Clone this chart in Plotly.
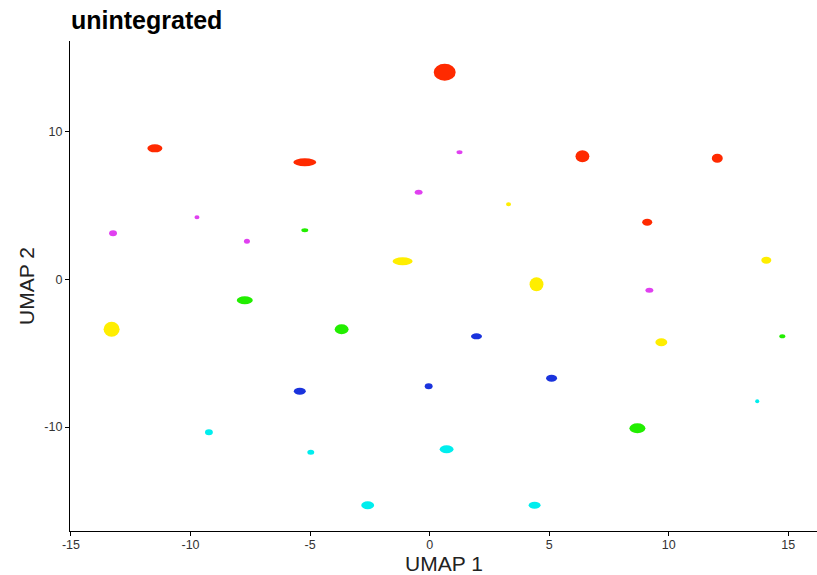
import plotly.graph_objects as go

# Cluster centres (UMAP units)
cluster_x = [0.63, -11.49, -5.22, 6.39, 12.03, 9.10,
             1.25, -0.46, -13.24, -9.73, -7.64, 9.19,
             3.30, -1.13, 4.47, -13.30, 14.08, 9.69,
             -5.22, -7.73, -3.68, 8.69, 14.75,
             1.96, -0.04, 5.10, -5.43,
             -9.23, -4.97, 0.71, -2.59, 4.39, 13.70]
cluster_y = [14.00, 8.86, 7.92, 8.32, 8.19, 3.86,
             8.59, 5.89, 3.11, 4.20, 2.57, -0.74,
             5.07, 1.22, -0.34, -3.38, 1.29, -4.26,
             3.32, -1.42, -3.38, -10.08, -3.86,
             -3.86, -7.24, -6.70, -7.58,
             -10.35, -11.70, -11.50, -15.29, -15.29, -8.25]
# Cluster extents (UMAP units)
cluster_wx = [0.92, 0.63, 0.96, 0.58, 0.46, 0.42,
              0.25, 0.33, 0.33, 0.21, 0.25, 0.33,
              0.21, 0.84, 0.58, 0.67, 0.42, 0.50,
              0.29, 0.67, 0.58, 0.67, 0.25,
              0.46, 0.33, 0.46, 0.50,
              0.33, 0.29, 0.58, 0.54, 0.50, 0.17]
cluster_wy = [1.15, 0.54, 0.54, 0.81, 0.61, 0.47,
              0.27, 0.34, 0.41, 0.27, 0.34, 0.34,
              0.27, 0.54, 0.95, 1.01, 0.47, 0.54,
              0.27, 0.54, 0.68, 0.68, 0.27,
              0.41, 0.41, 0.47, 0.47,
              0.41, 0.34, 0.54, 0.54, 0.47, 0.27]
cluster_group = (["red"] * 6 + ["magenta"] * 6 + ["yellow"] * 6 +
                 ["green"] * 5 + ["blue"] * 4 + ["cyan"] * 6)

x_ticks = [-15, -10, -5, 0, 5, 10, 15]
x_tick_labels = ["-15", "-10", "-5", "0", "5", "10", "15"]
y_ticks = [-10, 0, 10]
y_tick_labels = ["-10", "0", "10"]

colors = {"red": "#ff2a00", "magenta": "#e040f0", "yellow": "#ffee00",
          "green": "#22ee00", "blue": "#1a33dd", "cyan": "#00eeee"}

W, H = 817, 575
ML, MR, MT, MB = 70, 0, 41, 44

fig = go.Figure()
fig.add_trace(go.Scatter(
    x=cluster_x, y=cluster_y, mode="markers",
    marker=dict(size=2, color=[colors[g] for g in cluster_group]),
    showlegend=False, hoverinfo="x+y"))

for cx, cy, wx, wy, g in zip(cluster_x, cluster_y, cluster_wx, cluster_wy, cluster_group):
    fig.add_shape(type="circle", xref="x", yref="y",
                  x0=cx - wx / 2, x1=cx + wx / 2, y0=cy - wy / 2, y1=cy + wy / 2,
                  fillcolor=colors[g], line=dict(width=0), layer="above")

axis_common = dict(showgrid=False, zeroline=False, showline=True, linecolor="black",
                   linewidth=1.2, ticks="outside", ticklen=4, tickwidth=1, automargin=False,
                   tickfont=dict(family="Liberation Sans", size=12.5, color="#333333"),
                   tickcolor="black")

title_font = dict(family="Liberation Sans", size=21, color="#222222")

fig.update_layout(
    width=W, height=H,
    margin=dict(l=ML, r=MR, t=MT, b=MB, autoexpand=False),
    plot_bgcolor="white", paper_bgcolor="white",
    title=dict(text="<b>unintegrated</b>", x=71 / W, xanchor="left", xref="container",
               y=1 - 20 / H, yanchor="middle", yref="container",
               font=dict(family="Liberation Sans", size=25, color="black")),
    xaxis=dict(range=[-15.04, 16.2], tickvals=x_ticks, ticktext=x_tick_labels,
               ticklabelstandoff=-2, **axis_common),
    yaxis=dict(range=[-17.03, 16.12], tickvals=y_ticks, ticktext=y_tick_labels, **axis_common),
    annotations=[
        dict(text="UMAP 1", xref="paper", yref="paper", x=0.5, y=-(563 - 531) / (H - MT - MB),
             xanchor="center", yanchor="middle", showarrow=False, font=title_font),
        dict(text="UMAP 2", xref="paper", yref="paper", x=-(70 - 26) / (W - ML - MR), y=0.5,
             xanchor="center", yanchor="middle", textangle=-90, showarrow=False, font=title_font),
    ],
)

fig.write_html("out.html", config={"displayModeBar": False},
               post_script="document.body.style.margin='0';document.body.style.overflow='hidden';")
